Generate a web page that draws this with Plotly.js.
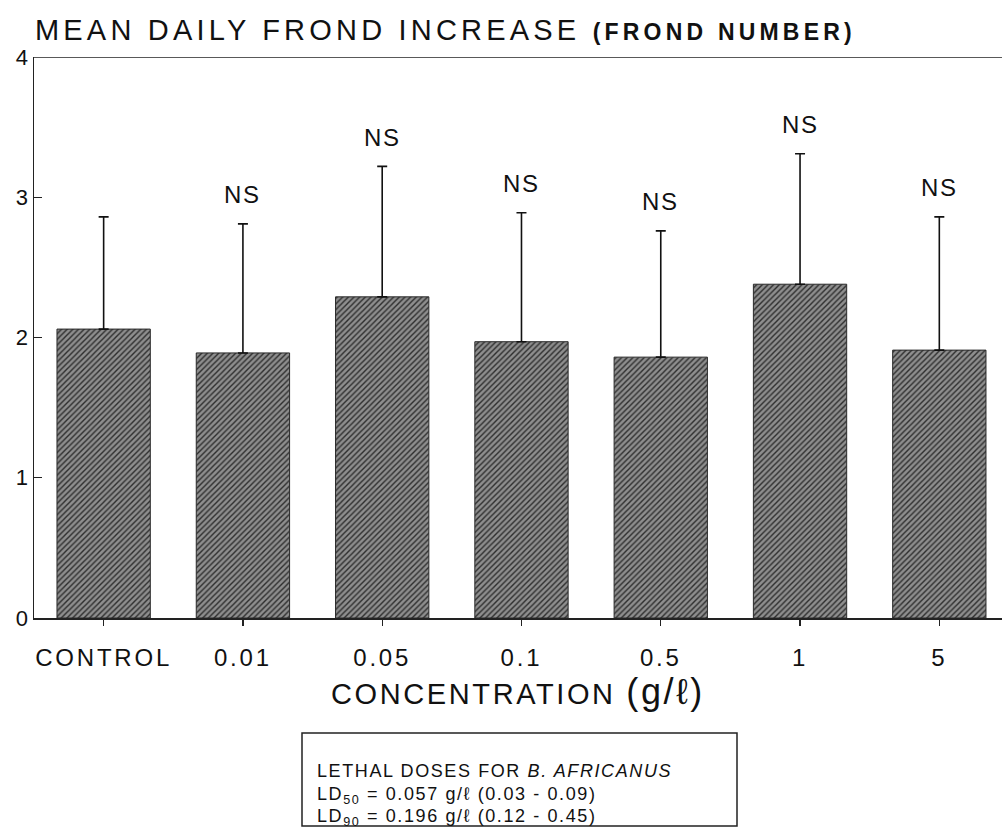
<!DOCTYPE html>
<html>
<head>
<meta charset="utf-8">
<script src="https://cdn.plot.ly/plotly-3.0.1.min.js"></script>
<style>
  html, body { margin: 0; padding: 0; background: #fff; }
  #chart { width: 1002px; height: 828px; }
  .gtitle { letter-spacing: 4.2px; }
  .xtitle { letter-spacing: 2.6px; }
  .xtick text { letter-spacing: 2.8px; }
  .annotation-text { letter-spacing: 1.6px; }
</style>
</head>
<body>
<div id="chart"></div>
<script>
// ---- data ----
const categories = ['CONTROL', '0.01', '0.05', '0.1', '0.5', '1', '5'];
const meanIncrease = [2.06, 1.89, 2.29, 1.97, 1.86, 2.38, 1.91];
const stdDev = [0.80, 0.92, 0.93, 0.92, 0.90, 0.93, 0.95];
const significance = ['', 'NS', 'NS', 'NS', 'NS', 'NS', 'NS'];
const yTickValues = [0, 1, 2, 3, 4];
const boxLines = [
  'LETHAL DOSES FOR <i>B. AFRICANUS</i>',
  'LD<sub>50</sub> = 0.057 g/\u2113 (0.03 - 0.09)',
  'LD<sub>90</sub> = 0.196 g/\u2113 (0.12 - 0.45)'
];

const FONT = 'Liberation Sans, Arial, Helvetica, sans-serif';

const trace = {
  type: 'bar',
  x: categories,
  y: meanIncrease,
  width: 0.67,
  marker: {
    color: '#8a8a8a',
    line: { color: '#2a2a2a', width: 1 },
    pattern: { shape: '/', fgcolor: '#2e2e2e', bgcolor: '#8e8e8e', size: 4, solidity: 0.35 }
  },
  error_y: {
    type: 'data',
    symmetric: false,
    array: stdDev,
    arrayminus: stdDev.map(() => 0),
    color: '#111',
    thickness: 1.6,
    width: 5
  },
  hoverinfo: 'skip'
};

const annotations = [];
categories.forEach((c, i) => {
  if (significance[i]) {
    annotations.push({
      x: i, y: meanIncrease[i] + stdDev[i], xref: 'x', yref: 'y',
      text: significance[i], showarrow: false,
      xanchor: 'center', yanchor: 'middle', yshift: 29,
      font: { family: FONT, size: 24, color: '#111' }
    });
  }
});
const boxPixY = [771, 795, 817];
boxLines.forEach((t, i) => {
  annotations.push({
    x: (315 - 34) / 968, y: (618 - boxPixY[i]) / 561, xref: 'paper', yref: 'paper',
    xanchor: 'left', yanchor: 'middle', showarrow: false, align: 'left',
    text: t,
    font: { family: FONT, size: 18, color: '#111' }
  });
});

const layout = {
  width: 1002,
  height: 828,
  margin: { l: 34, r: 0, t: 57, b: 210 },
  paper_bgcolor: '#fff',
  plot_bgcolor: '#fff',
  showlegend: false,
  font: { family: FONT, color: '#111' },
  title: {
    text: 'MEAN DAILY FROND INCREASE <b><span style="font-size:23px">(FROND NUMBER)</span></b>',
    x: 0.001, xref: 'paper', xanchor: 'left',
    y: 1 - 30 / 828, yref: 'container', yanchor: 'middle',
    font: { family: FONT, size: 29, color: '#111' }
  },
  xaxis: {
    type: 'category',
    range: [-0.5, 6.45],
    showline: true, linecolor: '#222', linewidth: 1.5,
    ticks: 'outside', ticklen: 6, tickcolor: '#222', tickwidth: 1.2,
    ticklabelstandoff: 12,
    tickfont: { family: FONT, size: 24, color: '#111' },
    showgrid: false, zeroline: false,
    title: {
      text: 'CONCENTRATION <span style="font-size:36px">(g/\u2113)</span>',
      standoff: 6,
      font: { family: FONT, size: 29, color: '#111' }
    }
  },
  yaxis: {
    range: [0, 4],
    tickvals: yTickValues,
    showline: true, linecolor: '#222', linewidth: 1.5,
    ticks: 'inside', ticklen: 8, tickcolor: '#222', tickwidth: 1.2,
    tickfont: { family: FONT, size: 22, color: '#111' },
    showgrid: false, zeroline: false
  },
  shapes: [
    { type: 'line', xref: 'paper', yref: 'y', x0: 0, x1: 1, y0: 4, y1: 4,
      line: { color: '#222', width: 1.5 } },
    { type: 'rect', xref: 'paper', yref: 'paper',
      x0: (302 - 34) / 968, x1: (737 - 34) / 968,
      y0: (618 - 826) / 561, y1: (618 - 733) / 561,
      line: { color: '#222', width: 1.5 }, fillcolor: 'rgba(0,0,0,0)' }
  ],
  annotations: annotations
};

Plotly.newPlot('chart', [trace], layout, { displayModeBar: false, staticPlot: true });
</script>
</body>
</html>
